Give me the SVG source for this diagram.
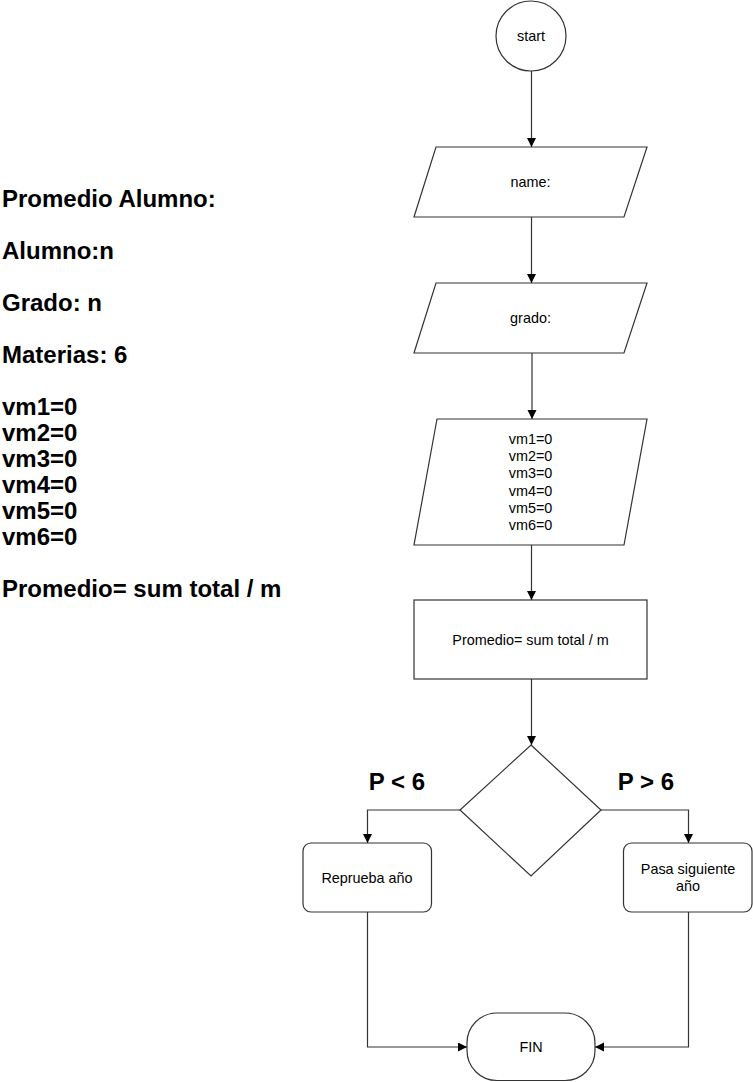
<svg xmlns="http://www.w3.org/2000/svg" width="753" height="1082" viewBox="0 0 753 1082">
<style>
.shape{fill:#fff;stroke:#333;stroke-width:1.2}
.edge{fill:none;stroke:#333;stroke-width:1.2}
.t{font-family:"Liberation Sans",Arial,sans-serif;font-size:14.4px;fill:#000;text-anchor:middle}
.b{font-family:"Liberation Sans",Arial,sans-serif;font-size:24px;font-weight:bold;fill:#000}
</style>
<defs>
<marker id="arr" markerUnits="userSpaceOnUse" markerWidth="10" markerHeight="10" refX="9" refY="4.5" orient="auto">
<path d="M0,0 L9,4.5 L0,9 Z" fill="#000"/>
</marker>
</defs>
<rect width="753" height="1082" fill="#fff"/>
<g id="notes">
<text class="b" x="2" y="206.5">Promedio Alumno:</text>
<text class="b" x="2" y="258.5">Alumno:n</text>
<text class="b" x="2" y="310.5">Grado: n</text>
<text class="b" x="2" y="362.5">Materias: 6</text>
<text class="b" x="2" y="414.5">vm1=0</text>
<text class="b" x="2" y="440.5">vm2=0</text>
<text class="b" x="2" y="466.5">vm3=0</text>
<text class="b" x="2" y="492.5">vm4=0</text>
<text class="b" x="2" y="518.5">vm5=0</text>
<text class="b" x="2" y="544.5">vm6=0</text>
<text class="b" x="2" y="596.5">Promedio= sum total / m</text>
</g>
<g id="connectors">
<path class="edge" d="M531.5,71 V147" marker-end="url(#arr)"/>
<path class="edge" d="M531.5,217 V283" marker-end="url(#arr)"/>
<path class="edge" d="M532,353 V419" marker-end="url(#arr)"/>
<path class="edge" d="M531.5,545 V600" marker-end="url(#arr)"/>
<path class="edge" d="M531.5,679 V745" marker-end="url(#arr)"/>
<path class="edge" d="M460,810 H367.5 V843" marker-end="url(#arr)"/>
<path class="edge" d="M601,810 H688.5 V843" marker-end="url(#arr)"/>
<path class="edge" d="M367.5,912 V1047 H467" marker-end="url(#arr)"/>
<path class="edge" d="M688.5,912 V1047 H595" marker-end="url(#arr)"/>
</g>
<g id="start">
<circle class="shape" cx="531" cy="36" r="35"/>
<text class="t" x="531" y="41">start</text>
</g>
<g id="name">
<polygon class="shape" points="436,147 647,147 624,217 414,217"/>
<text class="t" x="530.5" y="187">name:</text>
</g>
<g id="grado">
<polygon class="shape" points="436,283 647,283 624,353 414,353"/>
<text class="t" x="530.5" y="323">grado:</text>
</g>
<g id="vars">
<polygon class="shape" points="437,419 647,419 624,545 414,545"/>
<text class="t" x="530.5" y="443.8">vm1=0</text>
<text class="t" x="530.5" y="461.1">vm2=0</text>
<text class="t" x="530.5" y="478.4">vm3=0</text>
<text class="t" x="530.5" y="495.6">vm4=0</text>
<text class="t" x="530.5" y="512.9">vm5=0</text>
<text class="t" x="530.5" y="530.2">vm6=0</text>
</g>
<g id="promedio">
<rect class="shape" x="414" y="600" width="233" height="79"/>
<text class="t" x="530.5" y="644.5">Promedio= sum total / m</text>
</g>
<g id="decision">
<polygon class="shape" points="531,745 601,810 531,876 460,810"/>
</g>
<g id="labels">
<text class="b" x="397" y="790" text-anchor="middle">P &lt; 6</text>
<text class="b" x="646" y="790" text-anchor="middle">P &gt; 6</text>
</g>
<g id="reprueba">
<rect class="shape" x="303" y="843" width="128.5" height="69" rx="8"/>
<text class="t" x="367" y="882.5">Reprueba año</text>
</g>
<g id="pasa">
<rect class="shape" x="623.5" y="843" width="128.5" height="69" rx="8"/>
<text class="t" x="688" y="873.8">Pasa siguiente</text>
<text class="t" x="688" y="891.1">año</text>
</g>
<g id="fin">
<rect class="shape" x="467" y="1013" width="128" height="67.5" rx="30" ry="30"/>
<text class="t" x="531" y="1052">FIN</text>
</g>
</svg>
